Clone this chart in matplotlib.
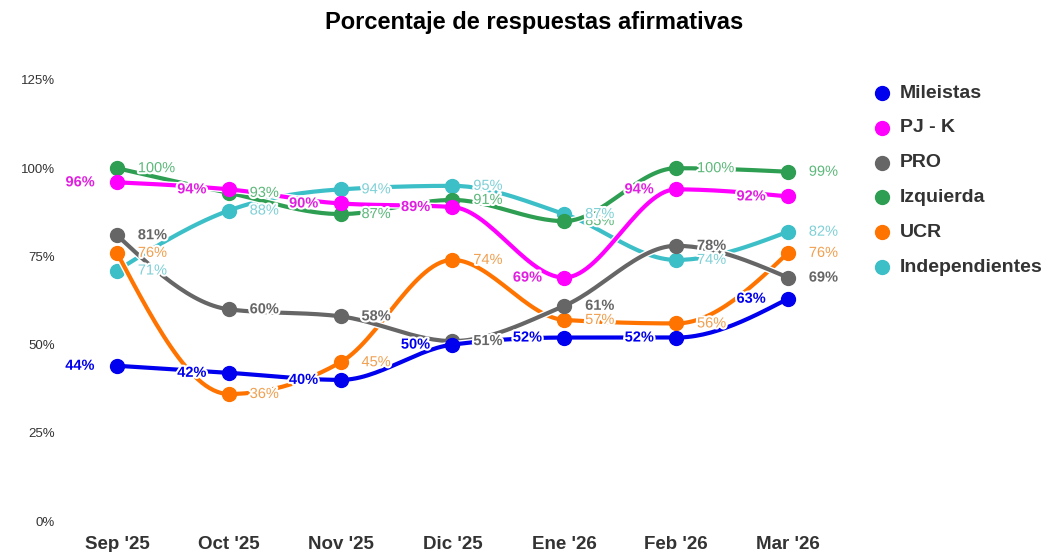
import numpy as np
import matplotlib
matplotlib.use("Agg")
import matplotlib.pyplot as plt
import matplotlib.patheffects as pe

plt.rcParams['font.family'] = ['Liberation Sans', 'DejaVu Sans']

# datos
meses = ["Sep '25", "Oct '25", "Nov '25", "Dic '25", "Ene '26", "Feb '26", "Mar '26"]
mileistas = [44, 42, 40, 50, 52, 52, 63]
pj_k = [96, 94, 90, 89, 69, 94, 92]
pro = [81, 60, 58, 51, 61, 78, 69]
izquierda = [100, 93, 87, 91, 85, 100, 99]
ucr = [76, 36, 45, 74, 57, 56, 76]
independientes = [71, 88, 94, 95, 87, 74, 82]

series = [
    ("Mileistas", mileistas, "#0000ee", "#0000ee", "bold", "left"),
    ("PJ - K", pj_k, "#ff00ff", "#e020e0", "bold", "left"),
    ("PRO", pro, "#666666", "#666666", "bold", "right"),
    ("Izquierda", izquierda, "#2e9e52", "#5cb87a", "normal", "right"),
    ("UCR", ucr, "#ff7400", "#f0a050", "normal", "right"),
    ("Independientes", independientes, "#3dbfc8", "#7fd0d6", "normal", "right"),
]


def monotone(x, y, n=30):
    # curva monotona tipo d3 curveMonotoneX
    x = np.asarray(x, float)
    y = np.asarray(y, float)
    h = np.diff(x)
    s = np.diff(y) / h
    m = np.zeros_like(y)
    for i in range(1, len(y) - 1):
        if s[i - 1] * s[i] <= 0:
            m[i] = 0
        else:
            p = (s[i - 1] * h[i] + s[i] * h[i - 1]) / (h[i - 1] + h[i])
            m[i] = (np.sign(s[i - 1]) + np.sign(s[i])) * min(abs(s[i - 1]), abs(s[i]), 0.5 * abs(p))
    m[0] = (3 * s[0] - m[1]) / 2 if len(y) > 2 else s[0]
    m[-1] = (3 * s[-1] - m[-2]) / 2 if len(y) > 2 else s[-1]
    xs, ys = [], []
    for i in range(len(x) - 1):
        t = np.linspace(0, 1, n)
        h00 = 2 * t**3 - 3 * t**2 + 1
        h10 = t**3 - 2 * t**2 + t
        h01 = -2 * t**3 + 3 * t**2
        h11 = t**3 - t**2
        xs.append(x[i] + t * h[i])
        ys.append(h00 * y[i] + h10 * h[i] * m[i] + h01 * y[i + 1] + h11 * h[i] * m[i + 1])
    return np.concatenate(xs), np.concatenate(ys)


fig = plt.figure(figsize=(10.44, 5.52), dpi=100)
# Sep en x=117px, Mar en x=788px; 0% en y=521px, 125% en y=80px
step = (788 - 117) / 6
left_px, right_px = 80, 830
ax = fig.add_axes([left_px / 1044, 31 / 552, (right_px - left_px) / 1044, 441 / 552])
ax.set_xlim(-(117 - left_px) / step, 6 + (right_px - 788) / step)
ax.set_ylim(0, 125)

xi = np.arange(len(meses))
halo = [pe.withStroke(linewidth=3, foreground="white")]

for nombre, vals, color, lcolor, peso, lado in reversed(series):
    sx, sy = monotone(xi, vals)
    ax.plot(sx, sy, color=color, lw=3.0, solid_capstyle="round", clip_on=False,
            path_effects=[pe.Stroke(linewidth=5, foreground="white"), pe.Normal()])
    ax.plot(xi, vals, "o", color=color, ms=10, clip_on=False)

for nombre, vals, color, lcolor, peso, lado in series:
    for i, v in enumerate(vals):
        if lado == "left":
            ax.annotate(f"{v}%", (i, v), xytext=(-16, 0), textcoords="offset points",
                        ha="right", va="center", fontsize=10.5, color=lcolor,
                        fontweight=peso, path_effects=halo)
        else:
            ax.annotate(f"{v}%", (i, v), xytext=(15, 0), textcoords="offset points",
                        ha="left", va="center", fontsize=10.5, color=lcolor,
                        fontweight=peso, path_effects=halo)

ax.set_yticks([0, 25, 50, 75, 100, 125])
ax.set_yticklabels([f"{t}%" for t in [0, 25, 50, 75, 100, 125]], fontsize=9.5, color="#333333")
ax.set_xticks(xi)
ax.set_xticklabels(meses, fontsize=13.5, fontweight="bold", color="#333333")
ax.tick_params(axis="both", length=0)
ax.tick_params(axis="y", pad=18)
ax.tick_params(axis="x", pad=11)
for sp in ax.spines.values():
    sp.set_visible(False)

fig.text(534 / 1044, 1 - 23 / 552, "Porcentaje de respuestas afirmativas", ha="center",
         va="center", fontsize=17, fontweight="bold", color="black")

# leyenda
for k, (nombre, vals, color, lcolor, peso, lado) in enumerate(series):
    yy = 1 - (93 + k * 34.8) / 552
    fig.lines.append(plt.Line2D([882 / 1044], [yy], marker="o", ms=10, color=color,
                                transform=fig.transFigure))
    fig.text(900 / 1044, yy, nombre, ha="left", va="center", fontsize=14,
             fontweight="bold", color="#333333")

fig.savefig("out.png", dpi=100, facecolor="white")
